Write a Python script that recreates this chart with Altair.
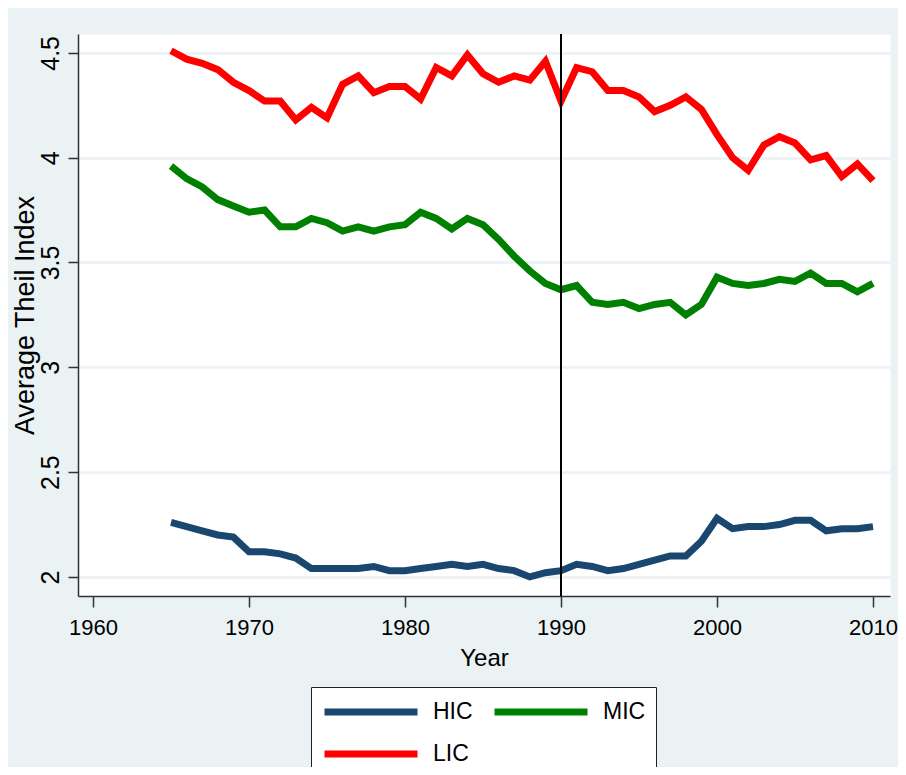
import altair as alt
import pandas as pd

years = list(range(1965, 2011))

lic = [4.51, 4.47, 4.45, 4.42, 4.36, 4.32, 4.27, 4.27, 4.18, 4.24,
       4.19, 4.35, 4.39, 4.31, 4.34, 4.34, 4.28, 4.43, 4.39, 4.49,
       4.40, 4.36, 4.39, 4.37, 4.46, 4.27, 4.43, 4.41, 4.32, 4.32,
       4.29, 4.22, 4.25, 4.29, 4.23, 4.11, 4.00, 3.94, 4.06, 4.10,
       4.07, 3.99, 4.01, 3.91, 3.97, 3.89]

mic = [3.96, 3.90, 3.86, 3.80, 3.77, 3.74, 3.75, 3.67, 3.67, 3.71,
       3.69, 3.65, 3.67, 3.65, 3.67, 3.68, 3.74, 3.71, 3.66, 3.71,
       3.68, 3.61, 3.53, 3.46, 3.40, 3.37, 3.39, 3.31, 3.30, 3.31,
       3.28, 3.30, 3.31, 3.25, 3.30, 3.43, 3.40, 3.39, 3.40, 3.42,
       3.41, 3.45, 3.40, 3.40, 3.36, 3.40]

hic = [2.26, 2.24, 2.22, 2.20, 2.19, 2.12, 2.12, 2.11, 2.09, 2.04,
       2.04, 2.04, 2.04, 2.05, 2.03, 2.03, 2.04, 2.05, 2.06, 2.05,
       2.06, 2.04, 2.03, 2.00, 2.02, 2.03, 2.06, 2.05, 2.03, 2.04,
       2.06, 2.08, 2.10, 2.10, 2.17, 2.28, 2.23, 2.24, 2.24, 2.25,
       2.27, 2.27, 2.22, 2.23, 2.23, 2.24]

groups = ["HIC", "MIC", "LIC"]
colors = ["#1A476F", "#008000", "#FF0000"]
x_ticks = [1960, 1970, 1980, 1990, 2000, 2010]
y_ticks = [2, 2.5, 3, 3.5, 4, 4.5]
ref_year = [1990]

rows = []
for g, vals in zip(groups, [hic, mic, lic]):
    for yr, v in zip(years, vals):
        rows.append({"Year": yr, "Theil": v, "Group": g})
df = pd.DataFrame(rows)

FONT = "Liberation Sans"

x_scale = alt.Scale(domain=[1959.038, 2011.09], nice=False, zero=False)
y_scale = alt.Scale(domain=[1.909, 4.59], nice=False, zero=False)

lines = alt.Chart(df).mark_line(strokeWidth=7).encode(
    x=alt.X("Year:Q", scale=x_scale,
            axis=alt.Axis(values=x_ticks, format="d", grid=False,
                          tickSize=11, tickColor="#333333", tickWidth=1.5,
                          domainColor="#333333", domainWidth=1.5,
                          labelFont=FONT, labelFontSize=22, labelColor="black",
                          labelPadding=10,
                          title="Year", titleFont=FONT, titleFontSize=24,
                          titleFontWeight="normal", titleColor="black",
                          titleX=406, titleY=69, titleBaseline="alphabetic",
                          titleAlign="center")),
    y=alt.Y("Theil:Q", scale=y_scale,
            axis=alt.Axis(values=y_ticks, format="~g", grid=True,
                          gridColor="#EAF2F3", gridWidth=2.5,
                          tickSize=10, tickColor="#333333", tickWidth=1.5,
                          domainColor="#333333", domainWidth=1.5,
                          labelFont=FONT, labelFontSize=25, labelColor="black",
                          labelAngle=270, labelAlign="center",
                          labelBaseline="alphabetic", labelPadding=10,
                          title="Average Theil Index", titleFont=FONT,
                          titleFontSize=27, titleFontWeight="normal",
                          titleColor="black", titleAngle=270,
                          titleX=-45, titleY=281, titleBaseline="alphabetic",
                          titleAlign="center")),
    color=alt.Color("Group:N", sort=groups,
                    scale=alt.Scale(domain=groups, range=colors),
                    legend=alt.Legend(orient="none", legendX=233, legendY=653,
                                      columns=2, direction="horizontal",
                                      values=groups,
                                      symbolType="stroke",
                                      symbolSize=8649, symbolStrokeWidth=7,
                                      clipHeight=30, labelFont=FONT,
                                      labelFontSize=23, labelColor="black",
                                      labelOffset=12, columnPadding=18,
                                      rowPadding=12, padding=10,
                                      fillColor="white", strokeColor="#222222",
                                      title=None)),
)

rule = alt.Chart(pd.DataFrame({"Year": ref_year})).mark_rule(
    color="black", strokeWidth=2
).encode(x=alt.X("Year:Q", scale=x_scale))

chart = alt.layer(lines, rule).properties(
    width=812, height=562,
    padding={"left": 70, "top": 26, "right": 8, "bottom": 171},
    autosize=alt.AutoSizeParams(type="none"),
    background="#EAF2F3",
).configure_view(fill="white", stroke="transparent")

chart.save("out.html", embed_options={"renderer": "svg", "actions": False})
